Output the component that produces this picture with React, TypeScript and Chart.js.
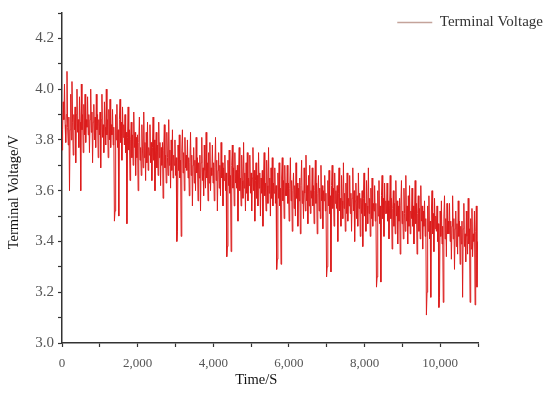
import React, { useEffect, useRef } from 'react';
import { Chart, registerables } from 'chart.js';

Chart.register(...registerables);

// ---- data ----
const seriesLabel = 'Terminal Voltage';
const xTitle = 'Time/S';
const yTitle = 'Terminal Voltage/V';
const sampleStepS = 16.5; // sampling interval of the recorded voltage, seconds

const voltage: number[] = [
  3.76, 3.84, 3.95, 3.88, 4.02, 3.86, 3.79, 3.90, 4.07, 3.85, 3.78, 3.89, 3.60, 3.84, 3.98, 3.80, 4.03, 3.87, 3.74, 3.90,
  3.84, 3.93, 3.71, 3.90, 4.00, 3.83, 3.88, 3.77, 3.97, 3.87, 3.60, 4.02, 3.84, 3.90, 3.75, 3.94, 3.82, 3.98, 3.79, 3.88,
  3.85, 3.97, 3.82, 3.90, 3.75, 3.88, 4.00, 3.83, 3.91, 3.71, 3.87, 3.94, 3.80, 3.89, 3.77, 3.98, 3.84, 3.90, 3.73, 3.88,
  3.82, 3.91, 3.69, 3.88, 3.98, 3.81, 3.86, 3.75, 3.95, 3.85, 3.78, 4.00, 3.82, 3.88, 3.73, 3.92, 3.80, 3.96, 3.77, 3.86,
  3.82, 3.92, 3.78, 3.85, 3.48, 3.52, 3.90, 3.80, 3.94, 3.77, 3.84, 3.50, 3.88, 3.96, 3.79, 3.87, 3.72, 3.93, 3.81, 3.86,
  3.78, 3.90, 3.75, 3.83, 3.47, 3.81, 3.93, 3.76, 3.84, 3.64, 3.80, 3.87, 3.73, 3.82, 3.70, 3.91, 3.77, 3.83, 3.66, 3.81,
  3.73, 3.82, 3.60, 3.79, 3.89, 3.72, 3.77, 3.66, 3.86, 3.76, 3.69, 3.91, 3.73, 3.79, 3.64, 3.83, 3.71, 3.87, 3.68, 3.77,
  3.74, 3.86, 3.71, 3.79, 3.64, 3.77, 3.89, 3.72, 3.80, 3.60, 3.76, 3.83, 3.69, 3.78, 3.66, 3.87, 3.73, 3.79, 3.62, 3.77,
  3.70, 3.79, 3.57, 3.76, 3.86, 3.69, 3.74, 3.63, 3.83, 3.73, 3.66, 3.88, 3.70, 3.76, 3.61, 3.80, 3.68, 3.84, 3.65, 3.74,
  3.70, 3.80, 3.66, 3.73, 3.40, 3.44, 3.78, 3.68, 3.82, 3.65, 3.72, 3.42, 3.76, 3.84, 3.67, 3.75, 3.60, 3.81, 3.69, 3.74,
  3.68, 3.80, 3.65, 3.73, 3.58, 3.71, 3.83, 3.66, 3.74, 3.54, 3.70, 3.77, 3.63, 3.72, 3.60, 3.81, 3.67, 3.73, 3.56, 3.71,
  3.65, 3.74, 3.52, 3.71, 3.81, 3.64, 3.69, 3.58, 3.78, 3.68, 3.61, 3.83, 3.65, 3.71, 3.56, 3.75, 3.63, 3.79, 3.60, 3.69,
  3.66, 3.78, 3.63, 3.71, 3.56, 3.69, 3.81, 3.64, 3.72, 3.52, 3.68, 3.75, 3.61, 3.70, 3.58, 3.79, 3.65, 3.71, 3.54, 3.69,
  3.64, 3.74, 3.60, 3.67, 3.34, 3.38, 3.72, 3.62, 3.76, 3.59, 3.66, 3.36, 3.70, 3.78, 3.61, 3.69, 3.54, 3.75, 3.63, 3.68,
  3.61, 3.70, 3.48, 3.67, 3.77, 3.60, 3.65, 3.54, 3.74, 3.64, 3.57, 3.79, 3.61, 3.67, 3.52, 3.71, 3.59, 3.75, 3.56, 3.65,
  3.62, 3.74, 3.59, 3.67, 3.52, 3.65, 3.77, 3.60, 3.68, 3.48, 3.64, 3.71, 3.57, 3.66, 3.54, 3.75, 3.61, 3.67, 3.50, 3.65,
  3.59, 3.68, 3.46, 3.65, 3.75, 3.58, 3.63, 3.52, 3.72, 3.62, 3.55, 3.77, 3.59, 3.65, 3.50, 3.69, 3.57, 3.73, 3.54, 3.63,
  3.59, 3.69, 3.55, 3.62, 3.29, 3.33, 3.67, 3.57, 3.71, 3.54, 3.61, 3.31, 3.65, 3.73, 3.56, 3.64, 3.49, 3.70, 3.58, 3.63,
  3.58, 3.70, 3.55, 3.63, 3.48, 3.61, 3.73, 3.56, 3.64, 3.44, 3.60, 3.67, 3.53, 3.62, 3.50, 3.71, 3.57, 3.63, 3.46, 3.61,
  3.56, 3.65, 3.43, 3.62, 3.72, 3.55, 3.60, 3.49, 3.69, 3.59, 3.52, 3.74, 3.56, 3.62, 3.47, 3.66, 3.54, 3.70, 3.51, 3.60,
  3.57, 3.69, 3.54, 3.62, 3.47, 3.60, 3.72, 3.55, 3.63, 3.43, 3.59, 3.66, 3.52, 3.61, 3.49, 3.70, 3.56, 3.62, 3.45, 3.60,
  3.56, 3.66, 3.52, 3.59, 3.26, 3.30, 3.64, 3.54, 3.68, 3.51, 3.58, 3.28, 3.62, 3.70, 3.53, 3.61, 3.46, 3.67, 3.55, 3.60,
  3.53, 3.62, 3.40, 3.59, 3.69, 3.52, 3.57, 3.46, 3.66, 3.56, 3.49, 3.71, 3.53, 3.59, 3.44, 3.63, 3.51, 3.67, 3.48, 3.57,
  3.54, 3.66, 3.51, 3.59, 3.44, 3.57, 3.69, 3.52, 3.60, 3.40, 3.56, 3.63, 3.49, 3.58, 3.46, 3.67, 3.53, 3.59, 3.42, 3.57,
  3.51, 3.60, 3.38, 3.57, 3.67, 3.50, 3.55, 3.44, 3.64, 3.54, 3.47, 3.69, 3.51, 3.57, 3.42, 3.61, 3.49, 3.65, 3.46, 3.55,
  3.52, 3.62, 3.48, 3.55, 3.22, 3.26, 3.60, 3.50, 3.64, 3.47, 3.54, 3.24, 3.58, 3.66, 3.49, 3.57, 3.42, 3.63, 3.51, 3.56,
  3.51, 3.63, 3.48, 3.56, 3.41, 3.54, 3.66, 3.49, 3.57, 3.37, 3.53, 3.60, 3.46, 3.55, 3.43, 3.64, 3.50, 3.56, 3.39, 3.54,
  3.48, 3.57, 3.35, 3.54, 3.64, 3.47, 3.52, 3.41, 3.61, 3.51, 3.44, 3.66, 3.48, 3.54, 3.39, 3.58, 3.46, 3.62, 3.43, 3.52,
  3.49, 3.61, 3.46, 3.54, 3.39, 3.52, 3.64, 3.47, 3.55, 3.35, 3.51, 3.58, 3.44, 3.53, 3.41, 3.62, 3.48, 3.54, 3.37, 3.52,
  3.46, 3.56, 3.42, 3.49, 3.11, 3.20, 3.54, 3.44, 3.58, 3.41, 3.48, 3.18, 3.52, 3.60, 3.43, 3.51, 3.36, 3.57, 3.45, 3.50,
  3.44, 3.54, 3.40, 3.47, 3.14, 3.18, 3.52, 3.42, 3.56, 3.39, 3.46, 3.16, 3.50, 3.58, 3.41, 3.49, 3.34, 3.55, 3.43, 3.48,
  3.43, 3.55, 3.40, 3.48, 3.33, 3.46, 3.58, 3.41, 3.49, 3.29, 3.45, 3.52, 3.38, 3.47, 3.35, 3.56, 3.42, 3.48, 3.31, 3.46,
  3.39, 3.48, 3.18, 3.45, 3.55, 3.38, 3.43, 3.32, 3.52, 3.42, 3.35, 3.57, 3.39, 3.45, 3.16, 3.49, 3.37, 3.53, 3.34, 3.43,
  3.40, 3.52, 3.15, 3.44, 3.54, 3.22, 3.40,
];

const xMajorTicks = [0, 2000, 4000, 6000, 8000, 10000];
const yMajorTicks = [3.0, 3.2, 3.4, 3.6, 3.8, 4.0, 4.2];
const xRange = [0, 11000];
const yRange = [3.0, 4.3];

const SERIF = "'Liberation Serif', 'DejaVu Serif', serif";

export default function App() {
  const canvasRef = useRef<HTMLCanvasElement | null>(null);

  useEffect(() => {
    const canvas = canvasRef.current;
    if (!canvas) return;

    const points = voltage.map((v, i) => ({ x: i * sampleStepS, y: v }));

    const legendPlacer = {
      id: 'legendPlacer',
      beforeLayout(chart: any) {
        const lg = chart.legend;
        if (lg && !lg._patched) {
          const orig = lg.fit.bind(lg);
          lg.fit = function () {
            orig();
            this.height = 0;
          };
          lg._patched = true;
        }
      },
      afterLayout(chart: any) {
        const lg = chart.legend;
        if (lg) {
          lg.left = 370;
          lg.right = 547;
          lg.top = 11;
          lg.bottom = 42;
          lg.width = lg.right - lg.left;
          lg.height = lg.bottom - lg.top;
        }
      },
    };

    const axisTitles = {
      id: 'axisTitles',
      afterDraw(chart: any) {
        const { ctx, chartArea } = chart;
        const w = chartArea.right - chartArea.left;
        const h = chartArea.bottom - chartArea.top;
        ctx.save();
        ctx.fillStyle = '#111111';
        ctx.textAlign = 'center';
        ctx.textBaseline = 'middle';
        ctx.font = `14.5px ${SERIF}`;
        ctx.fillText(xTitle, chartArea.left + w * 0.467, chartArea.bottom + 37);
        ctx.translate(14, chartArea.top + h * 0.543);
        ctx.rotate(-Math.PI / 2);
        ctx.fillText(yTitle, 0, 0);
        ctx.restore();
      },
    };

    const chart = new Chart(canvas, {
      type: 'line',
      data: {
        datasets: [
          {
            label: seriesLabel,
            data: points,
            borderColor: '#dc1c1c',
            borderWidth: 1,
            pointRadius: 0,
            tension: 0,
            fill: false,
          },
        ],
      },
      options: {
        animation: false,
        responsive: false,
        maintainAspectRatio: false,
        parsing: false as any,
        layout: { padding: { left: 0, top: 10, right: 72, bottom: 0 } },
        plugins: {
          tooltip: { enabled: false },
          legend: {
            display: true,
            position: 'top',
            align: 'end',
            labels: {
              usePointStyle: true,
              pointStyle: 'line',
              pointStyleWidth: 35,
              padding: 4,
              color: '#333333',
              font: { family: SERIF, size: 15 },
              generateLabels: () => [
                {
                  text: seriesLabel,
                  strokeStyle: '#c4a39a',
                  fillStyle: '#c4a39a',
                  lineWidth: 1.5,
                  pointStyle: 'line',
                  hidden: false,
                  datasetIndex: 0,
                  fontColor: '#333333',
                } as any,
              ],
            },
          },
        },
        scales: {
          x: {
            type: 'linear',
            min: xRange[0],
            max: xRange[1],
            afterFit: (s: any) => {
              s.height = 53;
            },
            border: { display: true, color: '#333333', width: 1.5 },
            grid: {
              display: true,
              drawOnChartArea: false,
              drawTicks: true,
              tickLength: 4,
              color: '#333333',
              tickWidth: 1.2,
            },
            ticks: {
              stepSize: 1000,
              autoSkip: false,
              maxRotation: 0,
              padding: 9,
              color: '#555555',
              font: { family: SERIF, size: 13 },
              callback: (v: any) =>
                xMajorTicks.some((t) => Math.abs(t - Number(v)) < 1e-6)
                  ? Number(v).toLocaleString('en-US')
                  : '',
            },
            title: { display: false },
          },
          y: {
            type: 'linear',
            min: yRange[0],
            max: yRange[1],
            afterFit: (s: any) => {
              s.width = 62;
            },
            border: { display: true, color: '#333333', width: 1.5 },
            grid: {
              display: true,
              drawOnChartArea: false,
              drawTicks: true,
              tickLength: 4,
              color: '#333333',
              tickWidth: 1.2,
            },
            ticks: {
              stepSize: 0.1,
              autoSkip: false,
              padding: 4,
              color: '#555555',
              font: { family: SERIF, size: 15 },
              callback: (v: any) =>
                yMajorTicks.some((t) => Math.abs(t - Number(v)) < 1e-6)
                  ? Number(v).toFixed(1)
                  : '',
            },
            title: { display: false },
          },
        },
      },
      plugins: [legendPlacer, axisTitles],
    });

    return () => {
      chart.destroy();
    };
  }, []);

  return (
    <div
      style={{
        position: 'fixed',
        left: 0,
        top: 0,
        width: 550,
        height: 396,
        background: '#ffffff',
      }}
    >
      <canvas ref={canvasRef} width={550} height={396} style={{ display: 'block' }} />
    </div>
  );
}
